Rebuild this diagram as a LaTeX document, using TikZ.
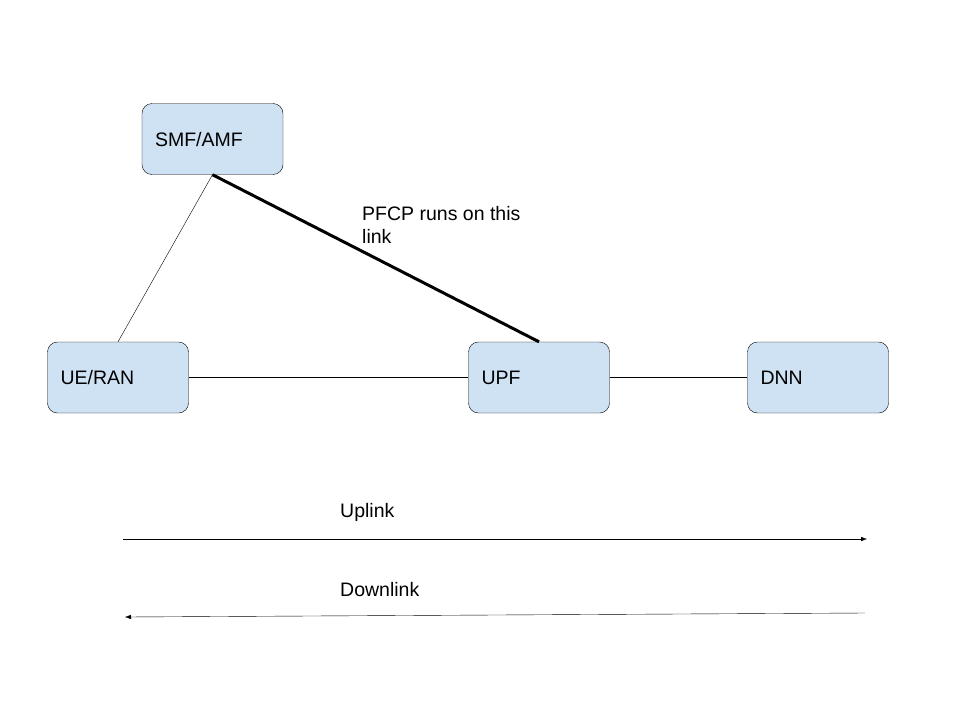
\documentclass[tikz,border=0pt]{standalone}
\usepackage{fontspec}
\setmainfont{Liberation Sans}
\usetikzlibrary{arrows.meta,positioning}
\definecolor{NFBlue}{RGB}{207,226,243}

\begin{document}
\begin{tikzpicture}[x=1pt, y=-1pt, font=\fontsize{19.5}{23}\selectfont]
  \tikzset{
    nf/.style={rounded corners=10pt, draw=black, fill=NFBlue, text width=115pt, align=left,
      inner xsep=13pt, inner ysep=0pt, minimum width=141pt, minimum height=71pt,
      text height=14pt, text depth=0pt},
    lbl/.style={anchor=west, inner sep=0pt, align=left},
    dir/.style={-{Latex[length=6pt,width=4.5pt]}, draw=black}
  }
  \useasboundingbox (0,0) rectangle (960,720);
  \node[nf] (smf) at (212.5,139) {SMF/AMF};
  \node[nf] (ran) at (118,377.5) {UE/RAN};
  \node[nf] (upf) at (539,377.5) {UPF};
  \node[nf] (dnn) at (818,377.5) {DNN};
  \draw (smf.south) -- (ran.north);
  \draw[line width=3pt] (smf.south) -- (upf.north);
  \draw (ran) -- (upf);
  \draw (upf) -- (dnn);
  \node[lbl] (pfcp) at (362,225) {PFCP runs on this\\link};
  % traffic direction
  \node[lbl] (up) at (340,512) {Uplink};
  \node[lbl] (down) at (340,590) {Downlink};
  \coordinate (upA) at (123,539);
  \coordinate (upB) at (867,539);
  \coordinate (dnA) at (865,613);
  \coordinate (dnB) at (125,617);
  \draw[dir] (upA) -- (upB);
  \draw[dir] (dnA) -- (dnB);
\end{tikzpicture}
\end{document}
